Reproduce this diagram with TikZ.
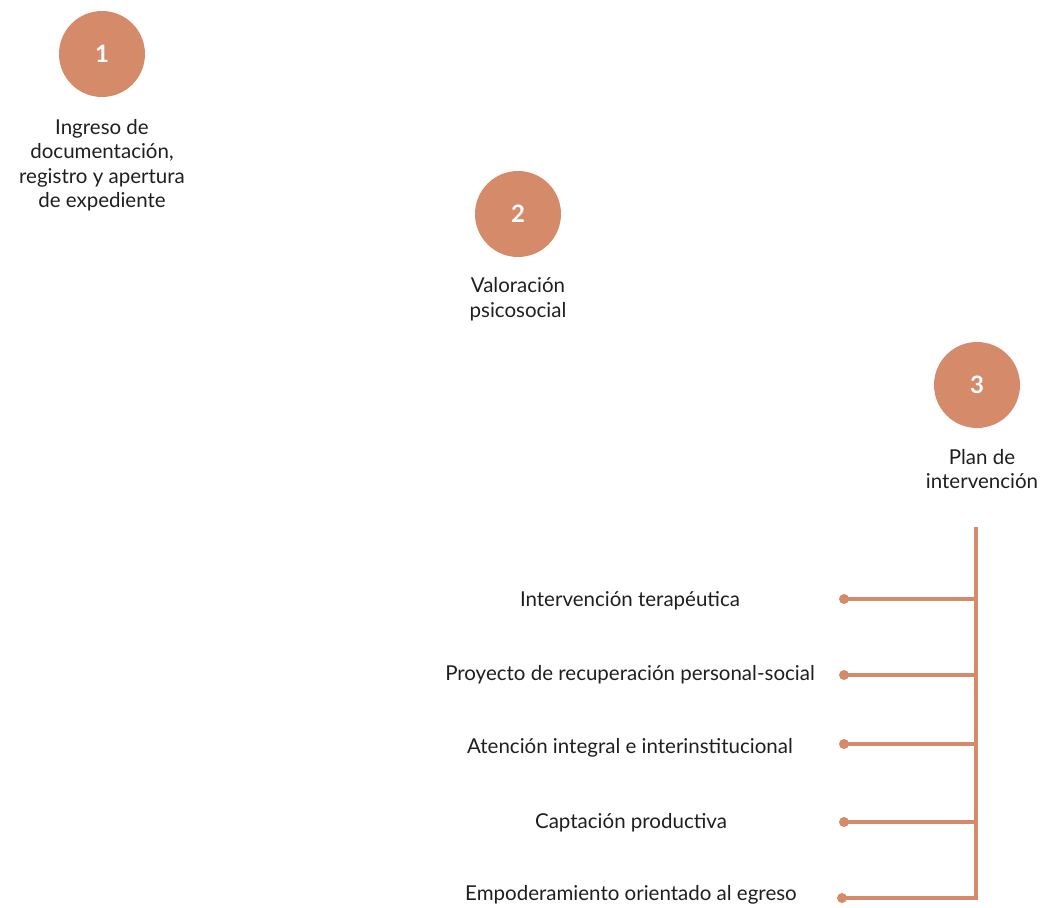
\documentclass[tikz,border=0pt]{standalone}
\usepackage{fontspec}
\setmainfont{Lato}
\definecolor{terra}{HTML}{D58A6A}
\begin{document}
\begin{tikzpicture}[x=1pt,y=-1pt,
  stepcircle/.style={circle,fill=terra,minimum size=86pt,inner sep=0pt,text=white,font=\fontsize{24}{28}\selectfont\bfseries},
  steplabel/.style={align=center,font=\fontsize{20.5}{24.5}\selectfont,text=black!88,inner sep=0pt},
  sublabel/.style={font=\fontsize{20.5}{24}\selectfont,text=black!88,inner sep=0pt},
  dot/.style={circle,fill=terra,minimum size=10pt,inner sep=0pt},
  branch/.style={draw=terra,line width=4pt}]
\useasboundingbox (0,0) rectangle (1043,907);
\node[stepcircle] (c1) at (102,54) {1};
\node[steplabel] (t1) at (102,165) {Ingreso de\\documentación,\\registro y apertura\\de expediente};
\node[stepcircle] (c2) at (518,214) {2};
\node[steplabel] (t2) at (518,299) {Valoración\\psicosocial};
\node[stepcircle] (c3) at (977,385) {3};
\node[steplabel] (t3) at (982,469) {Plan de\\intervención};
\coordinate (top) at (976,527);
\coordinate (b1) at (976,599);
\coordinate (b2) at (976,675);
\coordinate (b3) at (976,744);
\coordinate (b4) at (976,822);
\coordinate (b5) at (976,898);
\draw[branch] (top) -- (b5);
\node[dot] (d1) at (844,599) {};
\node[dot] (d2) at (844,675) {};
\node[dot] (d3) at (844,744) {};
\node[dot] (d4) at (844,822) {};
\node[dot] (d5) at (842,898) {};
\draw[branch] (d1.center) -- (b1);
\draw[branch] (d2.center) -- (b2);
\draw[branch] (d3.center) -- (b3);
\draw[branch] (d4.center) -- (b4);
\draw[branch,line join=miter] (d5.center) -- (b5) -- (976,880);
\node[sublabel] (s1) at (630,601) {Intervención terapéutica};
\node[sublabel] (s2) at (630,675) {Proyecto de recuperación personal-social};
\node[sublabel] (s3) at (630,748) {Atención integral e interinstitucional};
\node[sublabel] (s4) at (631,823) {Captación productiva};
\node[sublabel] (s5) at (631,895) {Empoderamiento orientado al egreso};
\end{tikzpicture}
\end{document}
